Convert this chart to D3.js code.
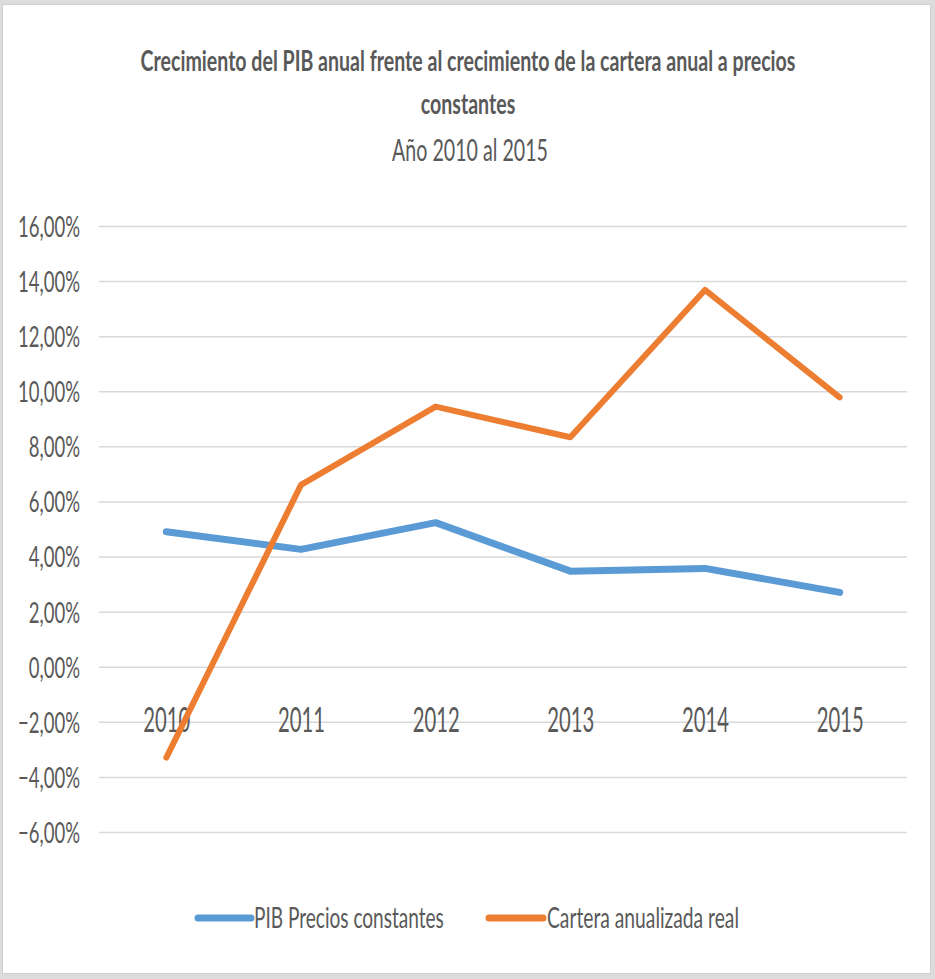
<!DOCTYPE html>
<html>
<head>
<meta charset="utf-8">
<script src="https://cdn.jsdelivr.net/npm/d3@7"></script>
<style>
  html, body { margin: 0; padding: 0; background: #ffffff; }
  svg { display: block; }
  text { font-family: Lato, "Open Sans", "Liberation Sans", sans-serif; fill: #595959; }
</style>
</head>
<body>
<svg id="chart" width="935" height="979"></svg>
<script>
// Series values (percent growth, constant prices)
const years = ["2010", "2011", "2012", "2013", "2014", "2015"];
const pibPreciosConstantes = [4.90, 4.26, 5.23, 3.47, 3.57, 2.70];
const carteraAnualizadaReal = [-3.30, 6.60, 9.44, 8.33, 13.68, 9.78];
const yTickValues = [-6, -4, -2, 0, 2, 4, 6, 8, 10, 12, 14, 16];

const seriesNames = ["PIB Precios constantes", "Cartera anualizada real"];
const seriesColors = ["#5b9bd5", "#ed7d31"];
const titleLines = [
  "Crecimiento del PIB anual frente al crecimiento de la cartera anual  a precios",
  "constantes"
];
const subtitle = "Año 2010 al 2015";

const svg = d3.select("#chart");
const W = 935, H = 979;

// frame
svg.append("rect").attr("x", 0).attr("y", 0).attr("width", W).attr("height", H).attr("fill", "#dcdcdc");
svg.append("rect").attr("x", 2.5).attr("y", 4.5).attr("width", 928).attr("height", 969)
  .attr("fill", "#ffffff").attr("stroke", "#cfcfcf").attr("stroke-width", 1);

const plot = { left: 99, right: 907, top: 226, bottom: 832 };

const x = d3.scalePoint().domain(years).range([plot.left, plot.right]).padding(0.5);
const y = d3.scaleLinear().domain([-6, 16]).range([plot.bottom, plot.top]);

// measure a string so text can be narrowed horizontally to a target width
function measure(str, size, weight) {
  const t = svg.append("text").attr("font-size", size).attr("font-weight", weight || 400).text(str);
  const w = t.node().getComputedTextLength();
  t.remove();
  return w;
}

const loc = d3.formatLocale({ decimal: ",", thousands: ".", grouping: [3], currency: ["", ""] });
const fmt = loc.format(".2f");

// y axis with gridlines
const ySize = 29;
const ySx = 62 / measure("16,00%", ySize);
const yAxisG = svg.append("g")
  .attr("transform", `translate(${plot.left},0)`)
  .call(d3.axisLeft(y).tickValues(yTickValues).tickSize(-(plot.right - plot.left)).tickFormat(d => fmt(d) + "%"));
yAxisG.select(".domain").remove();
yAxisG.selectAll(".tick line").attr("stroke", "#d9d9d9").attr("stroke-width", 1.5);
yAxisG.selectAll(".tick text")
  .attr("x", 0).attr("dy", "0.36em")
  .attr("font-size", ySize).attr("text-anchor", "end")
  .attr("fill", "#595959")
  .attr("transform", `translate(-19,0) scale(${ySx},1)`);

// x axis at zero
const xSize = 35;
const xSx = 47 / measure("2010", xSize);
const xAxisG = svg.append("g")
  .attr("transform", `translate(0,${y(0)})`)
  .call(d3.axisBottom(x).tickSize(0));
xAxisG.select(".domain").remove();
xAxisG.selectAll(".tick text")
  .attr("y", 0).attr("dy", 0)
  .attr("font-size", xSize).attr("text-anchor", "middle")
  .attr("fill", "#595959")
  .attr("transform", `translate(0,64.8) scale(${xSx},1)`);

// lines
const line = d3.line().x((d, i) => x(years[i])).y(d => y(d));
[pibPreciosConstantes, carteraAnualizadaReal].forEach((vals, k) => {
  svg.append("path")
    .datum(vals)
    .attr("d", line)
    .attr("fill", "none")
    .attr("stroke", seriesColors[k])
    .attr("stroke-width", k === 0 ? 7 : 6)
    .attr("stroke-linecap", "round")
    .attr("stroke-linejoin", "round");
});

// title
const tSize = 29;
const tSx = 655 / measure(titleLines[0], tSize, 700);
titleLines.forEach((s, i) => {
  svg.append("text")
    .attr("font-size", tSize).attr("font-weight", 700)
    .attr("text-anchor", "middle")
    .attr("transform", `translate(468,${71 + i * 43}) scale(${tSx},1)`)
    .text(s);
});
const sSize = 30;
const sSx = 156 / measure(subtitle, sSize);
svg.append("text")
  .attr("font-size", sSize)
  .attr("text-anchor", "middle")
  .attr("transform", `translate(470,161) scale(${sSx},1)`)
  .text(subtitle);

// legend
const legend = [
  { x0: 198, x1: 251, tx: 254, w: 190 },
  { x0: 489, x1: 543, tx: 547, w: 192 }
];
const lSize = 29;
legend.forEach((L, k) => {
  svg.append("line")
    .attr("x1", L.x0).attr("x2", L.x1).attr("y1", 918).attr("y2", 918)
    .attr("stroke", seriesColors[k]).attr("stroke-width", 7).attr("stroke-linecap", "round");
  const sx = L.w / measure(seriesNames[k], lSize);
  svg.append("text")
    .attr("font-size", lSize)
    .attr("transform", `translate(${L.tx},928) scale(${sx},1)`)
    .text(seriesNames[k]);
});
</script>
</body>
</html>
